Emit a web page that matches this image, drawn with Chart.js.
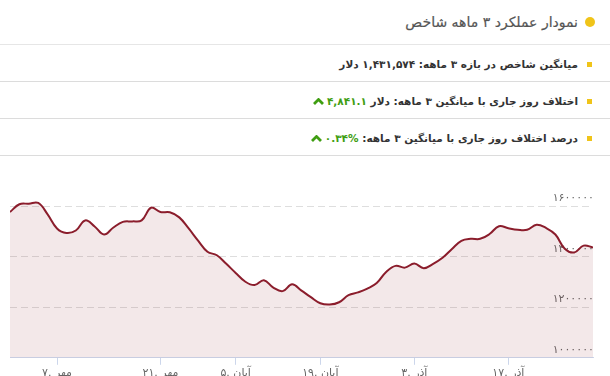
<!DOCTYPE html>
<html lang="fa">
<head>
<meta charset="utf-8">
<script src="https://cdn.jsdelivr.net/npm/chart.js@4"></script>
<style>
    html, body {
        margin: 0;
        padding: 0;
        width: 610px;
        height: 376px;
        overflow: hidden;
        background: #fff;
        font-family: "DejaVu Sans", sans-serif;
    }

    .panel {
        position: relative;
        width: 610px;
        height: 376px;
        direction: rtl;
    }

    .title {
        position: absolute;
        top: 0;
        left: 0;
        right: 0;
        height: 44px;
        border-bottom: 1px solid #e6e6e6;
        font-size: 14px;
        color: #555;
        line-height: 44px;
        padding-right: 32px;
        -webkit-text-stroke: 0.2px #555;
    }

    .title::before {
        content: "";
        position: absolute;
        right: 15px;
        top: 17px;
        width: 10px;
        height: 10px;
        border-radius: 50%;
        background: #f0c419;
    }

    .row {
        position: absolute;
        left: 0;
        right: 0;
        height: 36px;
        border-bottom: 1px solid #dcdcdc;
        font-size: 10.5px;
        font-weight: bold;
        color: #333;
        line-height: 38px;
        padding-right: 32px;
    }

    .row::before {
        content: "";
        position: absolute;
        right: 18px;
        top: 17px;
        width: 5px;
        height: 5px;
        background: #f0c419;
    }

    .up {
        color: #3f9e12;
        direction: ltr;
        unicode-bidi: isolate;
    }

    .up svg {
        vertical-align: 0;
        margin-right: 3px;
    }

    #chartWrap {
        position: absolute;
        left: 0;
        top: 171px;
        width: 610px;
        height: 211px;
        direction: ltr;
    }
</style>
</head>
<body>
<div class="panel">
    <div class="title">نمودار عملکرد ۳ ماهه شاخص</div>
    <div class="row" style="top: 45px">میانگین شاخص در بازه ۳ ماهه: ۱,۴۳۱,۵۷۴ دلار</div>
    <div class="row" style="top: 82px">اختلاف روز جاری با میانگین ۳ ماهه: دلار <span class="up"><svg width="11" height="7" viewBox="0 0 11 7"><path d="M1 6 L5.5 1.5 L10 6" fill="none" stroke="#3f9e12" stroke-width="2.8"/></svg>۴,۸۴۱.۱</span></div>
    <div class="row" style="top: 119px">درصد اختلاف روز جاری با میانگین ۳ ماهه: <span class="up"><svg width="11" height="7" viewBox="0 0 11 7"><path d="M1 6 L5.5 1.5 L10 6" fill="none" stroke="#3f9e12" stroke-width="2.8"/></svg>۰.۳۴%</span></div>
    <div id="chartWrap"><canvas id="indexChart"></canvas></div>
</div>

<script>
    // trading-day closes, index in dollars
    const indexValues = [
        1577000, 1608000, 1610000, 1613000, 1568000, 1512000, 1494000, 1504000,
        1544000, 1520000, 1488000, 1516000, 1538000, 1540000, 1544000, 1594000,
        1577000, 1576000, 1556000, 1512000, 1464000, 1420000, 1406000, 1372000,
        1336000, 1302000, 1288000, 1307000, 1278000, 1264000, 1291000, 1266000,
        1240000, 1216000, 1211000, 1220000, 1248000, 1259000, 1274000, 1296000,
        1340000, 1364000, 1357000, 1373000, 1355000, 1372000, 1396000, 1431000,
        1463000, 1471000, 1471000, 1490000, 1521000, 1513000, 1507000, 1507000,
        1527000, 1514000, 1488000, 1432000, 1417000, 1444000, 1437000,
    ];

    const dateTickIndex = [5, 16, 24, 33, 43, 53];
    const dateTickLabels = ["۷. مهر", "۲۱. مهر", "۵. آبان", "۱۹. آبان", "۳. آذر", "۱۷. آذر"];

    const valueTicks = [1000000, 1200000, 1400000, 1600000];

    const toFa = (s) => String(s).replace(/[0-9]/g, (d) => "۰۱۲۳۴۵۶۷۸۹"[d]);

    const LINE = "#8b1d2c";
    const FILL = "rgba(139, 29, 44, 0.1)";
    const AXIS = "#ccd6eb";

    new Chart(document.getElementById("indexChart"), {
        type: "line",

        data: {
            datasets: [
                {
                    data: indexValues.map((v, i) => ({ x: i, y: v })),

                    borderColor: LINE,

                    backgroundColor: FILL,

                    borderWidth: 2,

                    fill: "start",

                    tension: 0.4,

                    pointRadius: 0,
                },
            ],
        },

        options: {
            responsive: true,

            maintainAspectRatio: false,

            animation: false,

            layout: {
                padding: { left: 10, right: 15, top: 10, bottom: 0 },
            },

            plugins: {
                legend: { display: false },
                tooltip: { enabled: false },
            },

            scales: {
                x: {
                    type: "linear",

                    min: 0,

                    max: indexValues.length - 1,

                    afterBuildTicks: (axis) => {
                        axis.ticks = dateTickIndex.map((v) => ({ value: v }));
                    },

                    ticks: {
                        autoSkip: false,
                        maxRotation: 0,
                        padding: 2,
                        color: "#666",
                        font: { family: "DejaVu Sans", size: 11 },
                        callback: (v) => dateTickLabels[dateTickIndex.indexOf(v)] ?? "",
                    },

                    grid: {
                        drawOnChartArea: false,
                        tickLength: 7,
                        tickColor: AXIS,
                    },

                    border: { color: AXIS, width: 1 },
                },

                y: {
                    position: "right",

                    min: 1000000,

                    max: 1700000,

                    afterBuildTicks: (axis) => {
                        axis.ticks = valueTicks.map((v) => ({ value: v }));
                    },

                    ticks: {
                        mirror: true,
                        padding: 1,
                        labelOffset: -8,
                        color: "#666",
                        font: { family: "DejaVu Sans", size: 11 },
                        callback: (v) => toFa(v),
                    },

                    grid: {
                        drawTicks: false,
                        color: (ctx) => (ctx.tick && ctx.tick.value === 1000000 ? "rgba(0,0,0,0)" : "#dedede"),
                        lineWidth: 1,
                    },

                    border: { display: false, dash: [7, 4] },
                },
            },
        },
    });
</script>
</body>
</html>
